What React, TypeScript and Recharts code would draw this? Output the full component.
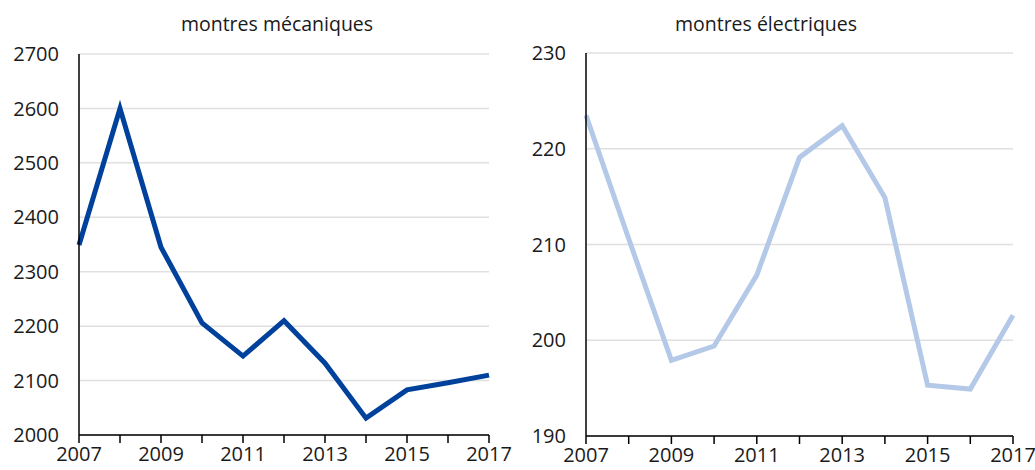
import React from "react";
import { LineChart, Line, XAxis, YAxis, CartesianGrid } from "recharts";

const years = [2007, 2008, 2009, 2010, 2011, 2012, 2013, 2014, 2015, 2016, 2017];
const mecaniques = [2349, 2600, 2345, 2206, 2145, 2210, 2132, 2031, 2083, 2096, 2110];
const electriques = [223.5, 210.6, 197.9, 199.4, 206.8, 219.1, 222.4, 214.9, 195.3, 194.9, 202.6];
const leftTicks = [2000, 2100, 2200, 2300, 2400, 2500, 2600, 2700];
const rightTicks = [190, 200, 210, 220, 230];

const FONT = "'Open Sans', 'Noto Sans', sans-serif";
const tickStyle = { fill: "#1a1a1a", fontSize: 20, fontFamily: FONT };

const mecaData = years.map((year, i) => ({ year, value: mecaniques[i] }));
const elecData = years.map((year, i) => ({ year, value: electriques[i] }));

const yearLabel = (v: number) => (v % 2 === 1 ? String(v) : "");

interface PanelProps {
  data: { year: number; value: number }[];
  ticks: number[];
  color: string;
  axisWidth: number;
  marginRight: number;
  top: number;
  bottom: number;
}

function Panel({ data, ticks, color, axisWidth, marginRight, top, bottom }: PanelProps) {
  return (
    <LineChart
      width={520}
      height={470}
      data={data}
      margin={{ top, right: marginRight, bottom: 0, left: 0 }}
    >
      <CartesianGrid vertical={false} stroke="#e0e0e0" strokeWidth={1.5} />
      <XAxis
        dataKey="year"
        type="number"
        domain={[2007, 2017]}
        ticks={years}
        tickFormatter={yearLabel}
        interval={0}
        stroke="#000"
        strokeWidth={1.5}
        tickSize={8}
        tickMargin={4}
        height={bottom}
        tick={tickStyle}
      />
      <YAxis
        type="number"
        domain={[ticks[0], ticks[ticks.length - 1]]}
        ticks={ticks}
        interval={0}
        width={axisWidth}
        stroke="#000"
        strokeWidth={1.5}
        tickLine={false}
        tickSize={0}
        tickMargin={20}
        tick={tickStyle}
      />
      <Line
        type="linear"
        dataKey="value"
        stroke={color}
        strokeWidth={5}
        dot={false}
        isAnimationActive={false}
      />
    </LineChart>
  );
}

export default function App() {
  const titleStyle: React.CSSProperties = {
    position: "absolute",
    top: 10,
    fontFamily: FONT,
    fontSize: 19.5,
    color: "#1a1a1a",
    transform: "translateX(-50%)",
    whiteSpace: "nowrap",
  };
  return (
    <div style={{ position: "absolute", left: 0, top: 0, width: 1035, height: 470, background: "#fff", overflow: "hidden" }}>
      <div style={{ ...titleStyle, left: 277 }}>montres mécaniques</div>
      <div style={{ ...titleStyle, left: 766 }}>montres électriques</div>
      <div style={{ position: "absolute", left: 0, top: 0 }}>
        <Panel data={mecaData} ticks={leftTicks} color="#00419b" axisWidth={79} marginRight={31} top={54} bottom={35} />
      </div>
      <div style={{ position: "absolute", left: 515, top: 0 }}>
        <Panel data={elecData} ticks={rightTicks} color="#b4c8e8" axisWidth={71} marginRight={22} top={53} bottom={34} />
      </div>
    </div>
  );
}
